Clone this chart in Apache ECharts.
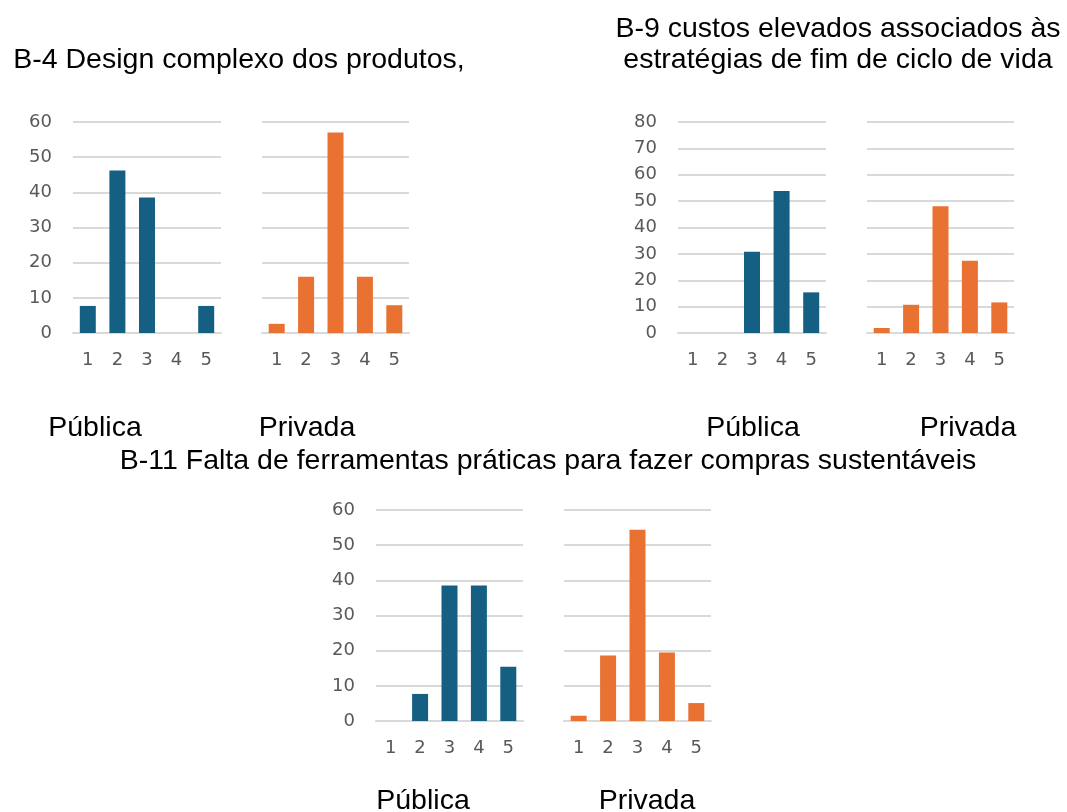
<!DOCTYPE html>
<html>
<head>
<meta charset="utf-8">
<script src="https://cdn.jsdelivr.net/npm/echarts@6/dist/echarts.min.js"></script>
<style>
  html, body { margin: 0; padding: 0; background: #ffffff; }
  #chart { width: 1067px; height: 812px; }
</style>
</head>
<body>
<div id="chart"></div>
<script>
// ---- Data ----
const categories = ['1', '2', '3', '4', '5'];
const b4Publica  = [7.7, 46.2, 38.5, 0, 7.7];
const b4Privada  = [2.6, 16.0, 57.0, 16.0, 7.9];
const b9Publica  = [0, 0, 30.8, 53.8, 15.4];
const b9Privada  = [1.9, 10.7, 48.1, 27.4, 11.6];
const b11Publica = [0, 7.7, 38.5, 38.5, 15.4];
const b11Privada = [1.5, 18.6, 54.4, 19.5, 5.1];
const titleB4  = 'B-4 Design complexo dos produtos,';
const titleB9  = 'B-9 custos elevados associados às\nestratégias de fim de ciclo de vida';
const titleB11 = 'B-11 Falta de ferramentas práticas para fazer compras sustentáveis';
const groupLabels = ['Pública', 'Privada'];
const yMaxB4 = 60, yMaxB9 = 80, yMaxB11 = 60;

// ---- Styling / layout ----
const BLUE = '#156082';
const ORANGE = '#E97132';
const GRID_COLOR = '#d9d9d9';
const AXIS_TEXT = '#595959';
const BIG_FONT = '"Liberation Sans", Arial, sans-serif';
const SMALL_FONT = '"DejaVu Sans", Verdana, sans-serif';

const panels = [
  { left: 73,  top: 122, width: 148, height: 211, max: yMaxB4,  showY: true,  color: BLUE,   data: b4Publica },
  { left: 262, top: 122, width: 147, height: 211, max: yMaxB4,  showY: false, color: ORANGE, data: b4Privada },
  { left: 678, top: 122, width: 148, height: 211, max: yMaxB9,  showY: true,  color: BLUE,   data: b9Publica },
  { left: 867, top: 122, width: 147, height: 211, max: yMaxB9,  showY: false, color: ORANGE, data: b9Privada },
  { left: 376, top: 510, width: 147, height: 211, max: yMaxB11, showY: true,  color: BLUE,   data: b11Publica },
  { left: 564, top: 510, width: 147, height: 211, max: yMaxB11, showY: false, color: ORANGE, data: b11Privada }
];

const grids = [], xAxes = [], yAxes = [], series = [];
panels.forEach((p, i) => {
  grids.push({ left: p.left, top: p.top, width: p.width, height: p.height, containLabel: false });
  xAxes.push({
    type: 'category', gridIndex: i, data: categories,
    axisTick: { show: false },
    axisLine: { show: true, lineStyle: { color: GRID_COLOR, width: 2 } },
    axisLabel: { color: AXIS_TEXT, fontFamily: SMALL_FONT, fontSize: 18, margin: 18 }
  });
  yAxes.push({
    type: 'value', gridIndex: i, min: 0, max: p.max, interval: 10,
    axisLine: { show: false }, axisTick: { show: false },
    axisLabel: { show: p.showY, color: AXIS_TEXT, fontFamily: SMALL_FONT, fontSize: 18, margin: 21 },
    splitLine: { show: true, lineStyle: { color: GRID_COLOR, width: 2 } }
  });
  series.push({
    type: 'bar', xAxisIndex: i, yAxisIndex: i, data: p.data,
    barWidth: 16,
    itemStyle: { color: p.color },
    silent: true
  });
});

function txt(x, y, text) {
  return {
    type: 'text', x: x, y: y, silent: true,
    style: {
      text: text, fill: '#000000', font: '28.5px ' + BIG_FONT,
      align: 'center', verticalAlign: 'middle', lineHeight: 31
    }
  };
}

const graphics = [
  txt(239, 60, titleB4),
  txt(838, 45, titleB9),
  txt(548, 461, titleB11),
  txt(95, 428, groupLabels[0]),
  txt(307, 428, groupLabels[1]),
  txt(753, 428, groupLabels[0]),
  txt(968, 428, groupLabels[1]),
  txt(423, 801, groupLabels[0]),
  txt(647, 801, groupLabels[1])
];

const chart = echarts.init(document.getElementById('chart'), null, { renderer: 'canvas' });
chart.setOption({
  animation: false,
  backgroundColor: '#ffffff',
  grid: grids,
  xAxis: xAxes,
  yAxis: yAxes,
  series: series,
  graphic: graphics
});
</script>
</body>
</html>
